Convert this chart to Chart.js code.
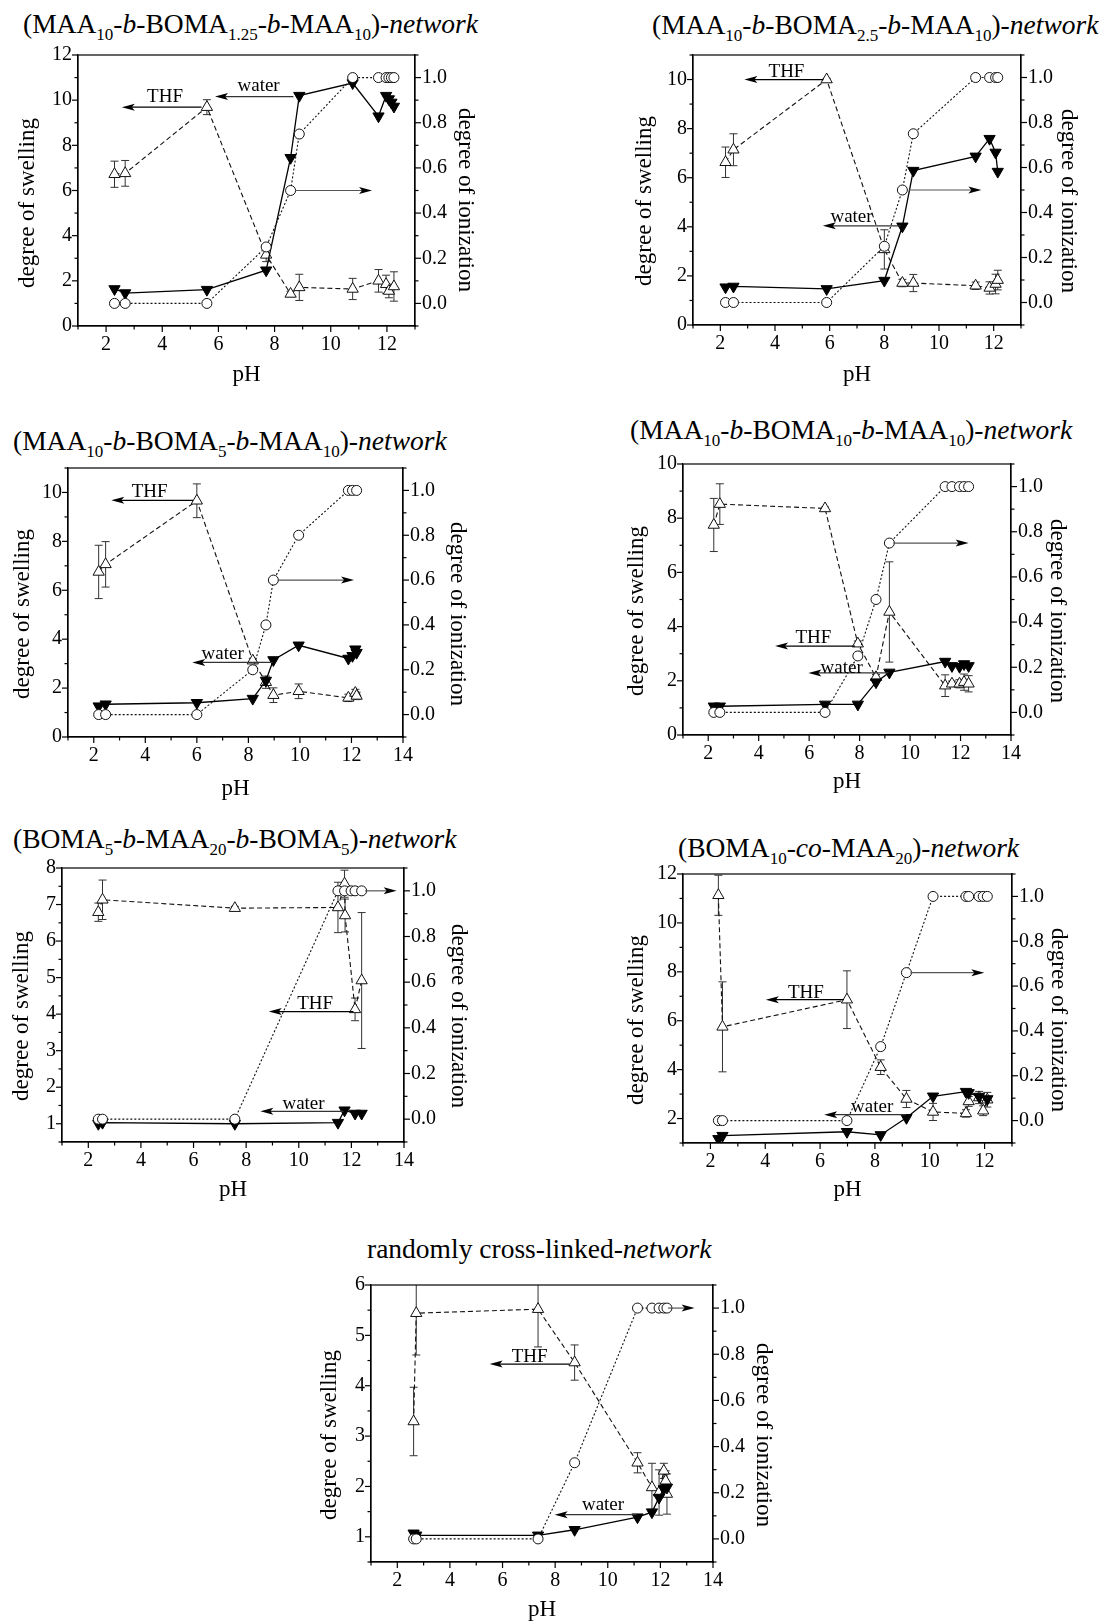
<!DOCTYPE html>
<html>
<head>
<meta charset="utf-8">
<script src="https://cdn.jsdelivr.net/npm/chart.js@4.4.0/dist/chart.umd.min.js"></script>
<style>
  body { margin: 0; background: #fff; width: 1099px; height: 1623px; position: relative; overflow: hidden;
         font-family: "Liberation Serif", "Times New Roman", serif; }
  .ttl { position: absolute; font-size: 27.5px; line-height: 28px; white-space: nowrap; color: #000; }
  .ttl sub { font-size: 17px; vertical-align: baseline; position: relative; top: 7px; }
  canvas { position: absolute; }
</style>
</head>
<body>
<script>
// panel 1 : (MAA10-b-BOMA1.25-b-MAA10)
const ph1 = [2.30, 2.68, 5.59, 7.70, 8.57, 8.88, 10.78, 11.70, 11.97, 12.07, 12.16, 12.25];
const thf1 = [6.72, 6.76, 9.69, 3.15, 1.42, 1.71, 1.64, 2.00, 1.85, 1.55, null, 1.75];
const thfErr1 = [0.58, 0.57, 0.33, 0.30, 0.12, 0.58, 0.47, 0.50, 0.40, 0.30, null, 0.65];
const water1 = [1.64, 1.46, 1.61, 2.47, 7.45, 10.2, 10.76, 9.29, 10.2, 10.05, 9.9, 9.72];
const ion1 = [0, 0, 0, 0.25, 0.5, 0.75, 1, 1, 1, 1, 1, 1];

// panel 2 : (MAA10-b-BOMA2.5-b-MAA10)
const ph2 = [2.19, 2.48, 5.89, 8.00, 8.66, 9.06, 11.34, 11.85, 12.07, 12.15];
const thf2 = [6.63, 7.14, 10.0, 3.08, 1.71, 1.71, 1.60, 1.51, 1.67, 1.83];
const thfErr2 = [0.62, 0.65, 0.05, 0.80, 0.15, 0.35, 0.15, 0.25, 0.40, 0.40];
const water2 = [1.54, 1.57, 1.47, 1.81, 4.02, 6.29, 6.87, 7.59, 7.03, 6.25];
const ion2 = [0, 0, 0, 0.25, 0.5, 0.75, 1, 1, 1, 1];

// panel 3 : (MAA10-b-BOMA5-b-MAA10)
const ph3 = [2.19, 2.46, 6.00, 8.17, 8.68, 8.97, 9.95, 11.88, 12.04, 12.15, 12.20];
const thf3 = [6.75, 7.06, 9.66, 3.12, 2.24, 1.71, 1.87, 1.60, null, 1.80, 1.68];
const thfErr3 = [1.09, 0.93, 0.69, 0.10, 0.25, 0.30, 0.30, 0.15, null, 0.15, 0.15];
const water3 = [1.26, 1.34, 1.40, 1.57, 2.31, 3.15, 3.75, 3.21, 3.32, 3.59, 3.45];
const ion3 = [0, 0, 0, 0.2, 0.4, 0.6, 0.8, 1, 1, null, 1];

// panel 4 : (MAA10-b-BOMA10-b-MAA10)
const ph4 = [2.22, 2.46, 6.63, 7.93, 8.65, 9.18, 11.39, 11.66, 11.96, 12.14, 12.32];
const thf4 = [7.75, 8.52, 8.36, 3.37, 2.13, 4.54, 1.82, 1.89, 1.89, 1.95, 1.89];
const thfErr4 = [0.98, 0.75, 0.05, 0.10, 0.10, 1.85, 0.40, 0.10, 0.15, 0.30, 0.30];
const water4 = [1.06, 1.06, 1.13, 1.13, 1.95, 2.31, 2.71, 2.55, 2.52, 2.62, 2.55];
const ion4 = [0, 0, 0, 0.25, 0.5, 0.75, 1, 1, 1, 1, 1];

// panel 5 : (BOMA5-b-MAA20-b-BOMA5)
const ph5 = [2.38, 2.54, 7.57, 11.49, 11.74, 11.76, 11.99, 12.14, 12.39];
const thf5 = [6.79, 7.13, 6.90, 6.92, 7.57, 6.70, null, 4.13, 4.92];
const thfErr5 = [0.25, 0.54, 0.05, 0.69, 0.37, 0.45, null, 0.31, 1.86];
const water5 = [1.00, 1.03, 1.00, 1.03, 1.37, null, null, 1.28, 1.28];
const ion5 = [0, 0, 0, 1, 1, null, 1, 1, 1];

// panel 6 : (BOMA10-co-MAA20)
const ph6 = [2.29, 2.44, 6.98, 8.21, 9.15, 10.12, 11.32, 11.42, 11.80, 11.95, 12.10];
const thf6 = [11.13, 5.75, 6.86, 4.10, 2.80, 2.27, 2.21, 2.70, 2.86, 2.32, 2.77];
const thfErr6 = [0.82, 1.84, 1.18, 0.30, 0.35, 0.35, 0.15, 0.20, 0.25, 0.20, 0.30];
const water6 = [1.17, 1.30, 1.46, 1.33, 2.03, 2.91, 3.10, 3.05, 2.90, null, 2.80];
const ion6 = [0, 0, 0, 0.33, 0.66, 1, 1, 1, 1, 1, 1];

// panel 7 : randomly cross-linked
const ph7 = [2.62, 2.72, 7.35, 8.74, 11.13, 11.68, 11.95, 12.13, 12.20, 12.25];
const thf7 = [3.29, 5.44, 5.52, 4.46, 2.47, 1.98, 1.88, 2.31, 2.11, 1.85];
const thfErr7 = [0.68, 0.83, 0.75, 0.35, 0.20, 0.48, 0.45, 0.15, 0.20, 0.40];
const water7 = [1.07, 1.03, 1.03, 1.14, 1.39, 1.49, 1.78, 1.95, null, 1.98];
const ion7 = [0, 0, 0, 0.33, 1, 1, 1, 1, null, 1];

const titles = [
  '(MAA<sub>10</sub>-<i>b</i>-BOMA<sub>1.25</sub>-<i>b</i>-MAA<sub>10</sub>)-<i>network</i>',
  '(MAA<sub>10</sub>-<i>b</i>-BOMA<sub>2.5</sub>-<i>b</i>-MAA<sub>10</sub>)-<i>network</i>',
  '(MAA<sub>10</sub>-<i>b</i>-BOMA<sub>5</sub>-<i>b</i>-MAA<sub>10</sub>)-<i>network</i>',
  '(MAA<sub>10</sub>-<i>b</i>-BOMA<sub>10</sub>-<i>b</i>-MAA<sub>10</sub>)-<i>network</i>',
  '(BOMA<sub>5</sub>-<i>b</i>-MAA<sub>20</sub>-<i>b</i>-BOMA<sub>5</sub>)-<i>network</i>',
  '(BOMA<sub>10</sub>-<i>co</i>-MAA<sub>20</sub>)-<i>network</i>',
  'randomly cross-linked-<i>network</i>'
];

// layout of each panel (plot box in page px) + axis ranges + annotations
// lt/rt: x of the left/right axis title, ly/ry: their centre y, phY: centre y of "pH"
const panels = [
  { ph: ph1, thf: thf1, err: thfErr1, water: water1, ion: ion1,
    box: {l: 78, r: 415, t: 52, b: 326}, lt: 28, rt: 465, ly: 203, ry: 200, phY: 375, ttl: [23, 33],
    x: [1, 13], y: [0, 12], yStep: 1, yEvery: 2,
    notes: [
      {text: 'THF', x: 4.1, y: 10.13, ax: 'y', from: 5.4, to: 2.56, ay: 9.69, col: '#000'},
      {text: 'water', x: 7.43, y: 10.64, ax: 'y', from: 8.67, to: 5.88, ay: 10.16, col: '#333'},
      {ax: 'y1', from: 8.75, to: 11.47, ay: 0.5, col: '#555'}
    ] },
  { ph: ph2, thf: thf2, err: thfErr2, water: water2, ion: ion2,
    box: {l: 693, r: 1021, t: 52, b: 325}, lt: 645, rt: 1068, ly: 201, ry: 201, phY: 375, ttl: [652, 34],
    x: [1, 13], y: [0, 11], yStep: 1, yEvery: 2,
    notes: [
      {text: 'THF', x: 4.42, y: 10.31, ax: 'y', from: 5.77, to: 2.88, ay: 10.0, col: '#000'},
      {text: 'water', x: 6.8, y: 4.38, ax: 'y', from: 8.6, to: 5.75, ay: 4.04, col: '#333'},
      {ax: 'y1', from: 8.9, to: 11.55, ay: 0.5, col: '#555'}
    ] },
  { ph: ph3, thf: thf3, err: thfErr3, water: water3, ion: ion3,
    box: {l: 68, r: 403, t: 465, b: 737}, lt: 23, rt: 457, ly: 614, ry: 614, phY: 789, ttl: [13, 450],
    x: [1, 14], y: [0, 11], yStep: 1, yEvery: 2,
    notes: [
      {text: 'THF', x: 4.17, y: 10.0, ax: 'y', from: 5.85, to: 2.68, ay: 9.68, col: '#000'},
      {text: 'water', x: 7.0, y: 3.41, ax: 'y', from: 8.94, to: 5.82, ay: 3.05, col: '#333'},
      {ax: 'y1', from: 9.14, to: 12.1, ay: 0.6, col: '#555'}
    ] },
  { ph: ph4, thf: thf4, err: thfErr4, water: water4, ion: ion4,
    box: {l: 683, r: 1011, t: 461, b: 735}, lt: 637, rt: 1057, ly: 611, ry: 611, phY: 782, ttl: [630, 439],
    x: [1, 14], y: [0, 10], yStep: 1, yEvery: 2,
    notes: [
      {text: 'THF', x: 6.17, y: 3.59, ax: 'y', from: 7.82, to: 4.65, ay: 3.28, col: '#000'},
      {text: 'water', x: 7.29, y: 2.49, ax: 'y', from: 9.14, to: 5.97, ay: 2.29, col: '#333'},
      {ax: 'y1', from: 9.34, to: 12.32, ay: 0.75, col: '#555'}
    ] },
  { ph: ph5, thf: thf5, err: thfErr5, water: water5, ion: ion5,
    box: {l: 62, r: 404, t: 865, b: 1142}, lt: 22, rt: 458, ly: 1016, ry: 1016, phY: 1190, ttl: [13, 848],
    x: [1, 14], y: [0.5, 8], yStep: 0.5, yEvery: 1,
    notes: [
      {text: 'THF', x: 10.62, y: 4.27, ax: 'y', from: 12.08, to: 8.86, ay: 4.07, col: '#000'},
      {text: 'water', x: 10.18, y: 1.55, ax: 'y', from: 11.7, to: 8.54, ay: 1.34, col: '#333'},
      {ax: 'y1', from: 12.52, to: 13.72, ay: 1.0, col: '#555'}
    ] },
  { ph: ph6, thf: thf6, err: thfErr6, water: water6, ion: ion6,
    box: {l: 683, r: 1012, t: 871, b: 1143}, lt: 637, rt: 1058, ly: 1020, ry: 1020, phY: 1190, ttl: [678, 857],
    x: [1, 13], y: [1, 12], yStep: 1, yEvery: 2,
    notes: [
      {text: 'THF', x: 5.48, y: 7.15, ax: 'y', from: 6.87, to: 4.02, ay: 6.86, col: '#000'},
      {text: 'water', x: 7.9, y: 2.47, ax: 'y', from: 9.12, to: 6.15, ay: 2.16, col: '#333'},
      {ax: 'y1', from: 9.3, to: 11.99, ay: 0.66, col: '#555'}
    ] },
  { ph: ph7, thf: thf7, err: thfErr7, water: water7, ion: ion7,
    box: {l: 371, r: 713, t: 1282, b: 1562}, lt: 330, rt: 763, ly: 1435, ry: 1435, phY: 1610, ttl: [367, 1258],
    x: [1, 14], y: [0.5, 6], yStep: 0.5, yEvery: 1,
    notes: [
      {text: 'THF', x: 7.03, y: 4.58, ax: 'y', from: 8.55, to: 5.51, ay: 4.43, col: '#000'},
      {text: 'water', x: 9.82, y: 1.63, ax: 'y', from: 11.09, to: 7.98, ay: 1.44, col: '#333'},
      {ax: 'y1', from: 12.29, to: 13.3, ay: 1.0, col: '#555'}
    ] }
];

const FONT = '"Liberation Serif", "Times New Roman", serif';

// error bars, drawn under the markers
const errorBars = {
  id: 'errorBars',
  beforeDatasetsDraw(chart) {
    const ctx = chart.ctx, a = chart.chartArea;
    ctx.save();
    ctx.beginPath();
    ctx.rect(a.left, a.top, a.right - a.left, a.bottom - a.top);
    ctx.clip();
    ctx.strokeStyle = '#333';
    ctx.lineWidth = 1;
    chart.data.datasets.forEach((ds, i) => {
      if (!ds.errors) return;
      const meta = chart.getDatasetMeta(i);
      const ys = chart.scales[ds.yAxisID];
      ds.data.forEach((pt, j) => {
        const e = ds.errors[j];
        if (pt.y == null || e == null) return;
        const x = meta.data[j].x;
        const y1 = ys.getPixelForValue(pt.y + e), y2 = ys.getPixelForValue(pt.y - e);
        ctx.beginPath();
        ctx.moveTo(x, y1); ctx.lineTo(x, y2);
        ctx.moveTo(x - 4, y1); ctx.lineTo(x + 4, y1);
        ctx.moveTo(x - 4, y2); ctx.lineTo(x + 4, y2);
        ctx.stroke();
      });
    });
    ctx.restore();
  }
};

// frame, major/minor ticks, axis titles, arrows and THF / water labels
const notesPlugin = {
  id: 'notes',
  afterDatasetsDraw(chart, args, opts) {
    const ctx = chart.ctx, a = chart.chartArea, xs = chart.scales.x;
    ctx.save();
    ctx.strokeStyle = '#000';
    ctx.lineWidth = 1.2;
    ctx.strokeRect(a.left, a.top, a.right - a.left, a.bottom - a.top);
    ['x', 'y', 'y1'].forEach(id => {
      const s = chart.scales[id];
      s.ticks.forEach(t => {
        const len = t.label !== '' ? 6 : 3.5;
        const q = s.getPixelForValue(t.value);
        ctx.beginPath();
        if (id === 'x') { ctx.moveTo(q, a.bottom); ctx.lineTo(q, a.bottom + len); }
        else if (id === 'y') { ctx.moveTo(a.left, q); ctx.lineTo(a.left - len, q); }
        else { ctx.moveTo(a.right, q); ctx.lineTo(a.right + len, q); }
        ctx.stroke();
      });
    });

    // axis titles
    const at = opts.axisTitles;
    ctx.fillStyle = '#000';
    ctx.font = '23px ' + FONT;
    ctx.textAlign = 'center';
    ctx.textBaseline = 'middle';
    ctx.fillText('pH', (a.left + a.right) / 2, at.bottom);
    ctx.save();
    ctx.translate(at.left[0], at.left[1]);
    ctx.rotate(-Math.PI / 2);
    ctx.fillText('degree of swelling', 0, 0);
    ctx.restore();
    ctx.save();
    ctx.translate(at.right[0], at.right[1]);
    ctx.rotate(Math.PI / 2);
    ctx.fillText('degree of ionization', 0, 0);
    ctx.restore();

    (opts.list || []).forEach(n => {
      const ys = chart.scales[n.ax];
      const x1 = xs.getPixelForValue(n.from), x2 = xs.getPixelForValue(n.to);
      const y = ys.getPixelForValue(n.ay);
      const dir = Math.sign(x2 - x1);
      ctx.strokeStyle = n.col;
      ctx.lineWidth = 1.2;
      ctx.beginPath();
      ctx.moveTo(x1, y); ctx.lineTo(x2 - dir * 8, y);
      ctx.stroke();
      ctx.fillStyle = '#000';
      ctx.beginPath();
      ctx.moveTo(x2, y);
      ctx.lineTo(x2 - dir * 13, y - 3.5);
      ctx.lineTo(x2 - dir * 10, y);
      ctx.lineTo(x2 - dir * 13, y + 3.5);
      ctx.closePath();
      ctx.fill();
      if (n.text) {
        ctx.font = '19px ' + FONT;
        ctx.fillStyle = '#000';
        ctx.textAlign = 'center';
        ctx.textBaseline = 'middle';
        ctx.fillText(n.text, xs.getPixelForValue(n.x), ys.getPixelForValue(n.y));
      }
    });
    ctx.restore();
  }
};

function pts(ph, arr) {
  return ph.map((x, i) => ({x: x, y: arr[i]}));
}

panels.forEach((p, k) => {
  const t = document.createElement('div');
  t.className = 'ttl';
  t.style.left = p.ttl[0] + 'px';
  t.style.top = (p.ttl[1] - 23.5) + 'px';
  t.innerHTML = titles[k];
  document.body.appendChild(t);

  const L = p.lt - 16, R = p.rt + 16, T = p.box.t - 16, B = p.phY + 16;
  const cv = document.createElement('canvas');
  cv.width = R - L; cv.height = B - T;
  cv.style.left = L + 'px'; cv.style.top = T + 'px';
  cv.style.width = (R - L) + 'px'; cv.style.height = (B - T) + 'px';
  document.body.appendChild(cv);

  const tickFont = {family: FONT, size: 20};
  const gridOpts = {display: false, drawTicks: false};
  const borderOpts = {display: true, color: '#000', width: 1.2};
  const axisTitles = {left: [p.lt - L, p.ly - T], right: [p.rt - L, p.ry - T], bottom: p.phY - T};

  new Chart(cv, {
    type: 'line',
    data: {
      datasets: [
        { label: 'THF', data: pts(p.ph, p.thf), errors: p.err, yAxisID: 'y',
          borderColor: '#111', borderWidth: 1.1, borderDash: [5, 3], spanGaps: true,
          pointStyle: 'triangle', pointRadius: 6.5, pointBackgroundColor: '#fff',
          pointBorderColor: '#111', pointBorderWidth: 1, order: 3 },
        { label: 'water', data: pts(p.ph, p.water), yAxisID: 'y',
          borderColor: '#000', borderWidth: 1.3, spanGaps: true,
          pointStyle: 'triangle', pointRotation: 180, pointRadius: 6.5,
          pointBackgroundColor: '#000', pointBorderColor: '#000', pointBorderWidth: 1, order: 2 },
        { label: 'ionization', data: pts(p.ph, p.ion), yAxisID: 'y1',
          borderColor: '#111', borderWidth: 1.1, borderDash: [2, 2], spanGaps: true,
          pointStyle: 'circle', pointRadius: 5, pointBackgroundColor: '#fff',
          pointBorderColor: '#111', pointBorderWidth: 1, order: 1 }
      ]
    },
    options: {
      responsive: false,
      animation: false,
      layout: {padding: {top: 16, left: 0, right: 0, bottom: 0}},
      plugins: {legend: {display: false}, tooltip: {enabled: false},
                notes: {list: p.notes, axisTitles: axisTitles}},
      elements: {line: {tension: 0}},
      scales: {
        x: {
          type: 'linear', position: 'bottom', min: p.x[0], max: p.x[1],
          ticks: {stepSize: 1, autoSkip: false, maxRotation: 0, color: '#000', font: tickFont, padding: 7,
                  callback: v => (Math.round(v) % 2 === 0 ? String(Math.round(v)) : '')},
          grid: gridOpts, border: borderOpts,
          afterFit: s => { s.height = B - p.box.b; }
        },
        y: {
          type: 'linear', position: 'left', min: p.y[0], max: p.y[1],
          ticks: {stepSize: p.yStep, autoSkip: false, color: '#000', font: tickFont, padding: 6,
                  callback: v => {
                    const r = Math.round(v);
                    return (Math.abs(v - r) < 1e-6 && r % p.yEvery === 0) ? String(r) : '';
                  }},
          grid: gridOpts, border: borderOpts,
          afterFit: s => { s.width = p.box.l - L; }
        },
        y1: {
          type: 'linear', position: 'right', min: -0.1, max: 1.1,
          ticks: {stepSize: 0.1, autoSkip: false, color: '#000', font: tickFont, padding: 7,
                  callback: v => {
                    const r = Math.round(v * 10);
                    return (r >= 0 && r <= 10 && r % 2 === 0) ? (r / 10).toFixed(1) : '';
                  }},
          grid: gridOpts, border: borderOpts,
          afterFit: s => { s.width = R - p.box.r; }
        }
      }
    },
    plugins: [errorBars, notesPlugin]
  });
});
</script>
</body>
</html>
